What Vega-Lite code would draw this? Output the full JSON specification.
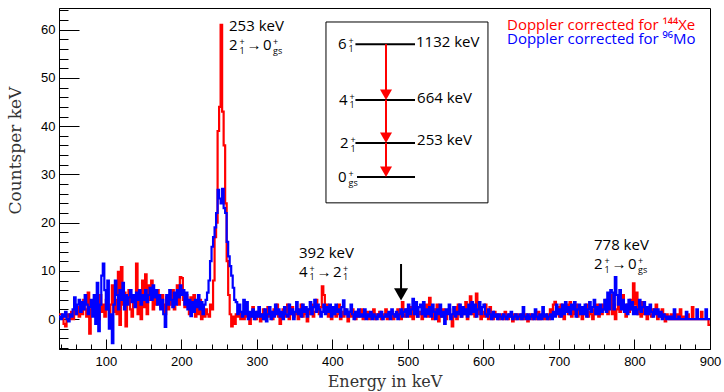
{
  "$schema": "https://vega.github.io/schema/vega-lite/v6.json",
  "autosize": "none",
  "width": 651,
  "height": 341,
  "padding": {"left": 59, "top": 8, "right": 14, "bottom": 43},
  "background": "white",
  "config": {"view": {"stroke": "black", "strokeWidth": 1}},
  "resolve": {"axis": {"x": "independent", "y": "independent"}},
  "datasets": {
    "h": [
      {"e":38,"r":1,"b":0.5},{"e":40,"r":1,"b":0},{"e":42,"r":0.5,"b":1},{"e":44,"r":-1,"b":0.5},{"e":46,"r":-1.5,"b":1.5},
      {"e":48,"r":0.5,"b":0},{"e":50,"r":1,"b":-0.5},{"e":52,"r":0,"b":1},{"e":54,"r":1.5,"b":0.5},{"e":56,"r":0,"b":2},
      {"e":58,"r":2,"b":4.5},{"e":60,"r":1,"b":1},{"e":62,"r":2.5,"b":3},{"e":64,"r":0.5,"b":4},{"e":66,"r":3,"b":1.5},
      {"e":68,"r":1,"b":3.5},{"e":70,"r":4,"b":2},{"e":72,"r":2,"b":5},{"e":74,"r":0.5,"b":3},{"e":76,"r":5.5,"b":1},
      {"e":78,"r":-3,"b":2.5},{"e":80,"r":2,"b":4},{"e":82,"r":3.5,"b":0.5},{"e":84,"r":1,"b":5},{"e":86,"r":4,"b":-1},
      {"e":88,"r":2.5,"b":7.5},{"e":90,"r":0,"b":-2.5},{"e":92,"r":5,"b":3},{"e":94,"r":1.5,"b":9},{"e":96,"r":3,"b":11.5},
      {"e":98,"r":0.5,"b":6},{"e":100,"r":4,"b":2},{"e":102,"r":2,"b":8},{"e":104,"r":0.5,"b":-2},{"e":106,"r":3,"b":1},
      {"e":108,"r":7,"b":-5},{"e":110,"r":1.5,"b":3},{"e":112,"r":4,"b":8},{"e":114,"r":1,"b":5},{"e":116,"r":9.8,"b":2},
      {"e":118,"r":-1.2,"b":6},{"e":120,"r":10.8,"b":4},{"e":122,"r":3,"b":7.5},{"e":124,"r":5.5,"b":2},{"e":126,"r":-1.5,"b":5},
      {"e":128,"r":4,"b":3},{"e":130,"r":6,"b":4.5},{"e":132,"r":2,"b":6},{"e":134,"r":0.5,"b":3.5},{"e":136,"r":5,"b":5},
      {"e":138,"r":3,"b":2.5},{"e":140,"r":11.5,"b":5.5},{"e":142,"r":1,"b":4},{"e":144,"r":6,"b":6},{"e":146,"r":0,"b":3},
      {"e":148,"r":8,"b":5},{"e":150,"r":2.5,"b":4},{"e":152,"r":9.3,"b":6},{"e":154,"r":1,"b":3.5},{"e":156,"r":7,"b":5},
      {"e":158,"r":4,"b":6.5},{"e":160,"r":8,"b":4},{"e":162,"r":2,"b":7},{"e":164,"r":5.5,"b":4.5},{"e":166,"r":3,"b":6},
      {"e":168,"r":6,"b":3},{"e":170,"r":4,"b":5},{"e":172,"r":2.5,"b":2},{"e":174,"r":5,"b":4},{"e":176,"r":3,"b":1},
      {"e":178,"r":1,"b":-1.6},{"e":180,"r":4.5,"b":5},{"e":182,"r":2,"b":3},{"e":184,"r":5,"b":6},{"e":186,"r":3,"b":4},
      {"e":188,"r":6,"b":2.5},{"e":190,"r":2,"b":5.5},{"e":192,"r":4,"b":3},{"e":194,"r":7,"b":6},{"e":196,"r":3,"b":4.5},
      {"e":198,"r":8.7,"b":7},{"e":200,"r":8.5,"b":5},{"e":202,"r":4,"b":6},{"e":204,"r":2.5,"b":3},{"e":206,"r":5,"b":5.5},
      {"e":208,"r":3,"b":2},{"e":210,"r":1,"b":4},{"e":212,"r":4.5,"b":0.6},{"e":214,"r":2,"b":3.5},{"e":216,"r":5,"b":1.5},
      {"e":218,"r":0.5,"b":4},{"e":220,"r":3,"b":2.5},{"e":222,"r":1,"b":5},{"e":224,"r":4,"b":2},{"e":226,"r":0,"b":3.5},
      {"e":228,"r":2,"b":1},{"e":230,"r":0.5,"b":3},{"e":232,"r":2,"b":4},{"e":234,"r":1,"b":5.5},{"e":236,"r":0.5,"b":8},
      {"e":238,"r":3,"b":12},{"e":240,"r":2,"b":15},{"e":242,"r":8,"b":17},{"e":244,"r":17,"b":19},{"e":246,"r":20,"b":22},
      {"e":248,"r":39,"b":26.8},{"e":250,"r":44,"b":25},{"e":252,"r":61,"b":24},{"e":254,"r":43,"b":27},{"e":256,"r":36,"b":23},
      {"e":258,"r":24,"b":22},{"e":260,"r":12,"b":16},{"e":262,"r":5,"b":13},{"e":264,"r":1,"b":11},{"e":266,"r":-1.5,"b":9},
      {"e":268,"r":0.5,"b":6.5},{"e":270,"r":-1,"b":4},{"e":272,"r":1,"b":3.5},{"e":274,"r":0.5,"b":1},{"e":276,"r":1.5,"b":3},
      {"e":278,"r":0,"b":1.5},{"e":280,"r":1,"b":0.5},{"e":282,"r":0,"b":4},{"e":284,"r":2,"b":1},{"e":286,"r":0.5,"b":3.5},
      {"e":288,"r":1,"b":0},{"e":290,"r":-1,"b":1.5},{"e":292,"r":0.5,"b":0.5},{"e":294,"r":2.5,"b":2},{"e":296,"r":1,"b":0},
      {"e":298,"r":0,"b":1.5},{"e":300,"r":1.5,"b":0.5},{"e":302,"r":0.5,"b":2.5},{"e":304,"r":-0.5,"b":0.5},{"e":306,"r":1,"b":1},
      {"e":308,"r":2,"b":0},{"e":310,"r":0,"b":2},{"e":312,"r":1,"b":-0.5},{"e":314,"r":2.5,"b":1},{"e":316,"r":0.5,"b":2.5},
      {"e":318,"r":1.5,"b":0},{"e":320,"r":0,"b":1.5},{"e":322,"r":2,"b":0.5},{"e":324,"r":1,"b":3},{"e":326,"r":3,"b":1},
      {"e":328,"r":0.5,"b":2},{"e":330,"r":-1,"b":0.5},{"e":332,"r":1,"b":1.5},{"e":334,"r":2,"b":0},{"e":336,"r":0.5,"b":2.5},
      {"e":338,"r":1.5,"b":1},{"e":340,"r":3,"b":0.5},{"e":342,"r":0,"b":3},{"e":344,"r":1,"b":1},{"e":346,"r":2.5,"b":2},
      {"e":348,"r":0.5,"b":0},{"e":350,"r":1,"b":1.5},{"e":352,"r":2,"b":3.5},{"e":354,"r":0,"b":1},{"e":356,"r":1.5,"b":2},
      {"e":358,"r":3,"b":0.5},{"e":360,"r":0.5,"b":3},{"e":362,"r":2,"b":1.5},{"e":364,"r":1,"b":2.5},{"e":366,"r":-0.5,"b":0.5},
      {"e":368,"r":2,"b":2},{"e":370,"r":1,"b":3.5},{"e":372,"r":3,"b":1},{"e":374,"r":0.5,"b":2.5},{"e":376,"r":1.5,"b":4},
      {"e":378,"r":4,"b":1.5},{"e":380,"r":2,"b":3},{"e":382,"r":1,"b":2},{"e":384,"r":2.5,"b":0.5},{"e":386,"r":6.8,"b":1.5},
      {"e":388,"r":5,"b":3},{"e":390,"r":2,"b":1},{"e":392,"r":3,"b":2.5},{"e":394,"r":0.5,"b":1.5},{"e":396,"r":1.5,"b":3},
      {"e":398,"r":0,"b":0.5},{"e":400,"r":1,"b":2.5},{"e":402,"r":2,"b":1},{"e":404,"r":0.5,"b":3},{"e":406,"r":1,"b":1.5},
      {"e":408,"r":3,"b":2},{"e":410,"r":0,"b":0.5},{"e":412,"r":1.5,"b":2.5},{"e":414,"r":0.5,"b":3.9},{"e":416,"r":2,"b":1},
      {"e":418,"r":1,"b":2},{"e":420,"r":-0.5,"b":0.5},{"e":422,"r":1.5,"b":1.5},{"e":424,"r":0.5,"b":3},{"e":426,"r":2,"b":1},
      {"e":428,"r":1,"b":0},{"e":430,"r":0,"b":1.5},{"e":432,"r":1.5,"b":0.5},{"e":434,"r":0.5,"b":2},{"e":436,"r":1,"b":0.5},
      {"e":438,"r":2,"b":1},{"e":440,"r":0,"b":0.5},{"e":442,"r":1,"b":2},{"e":444,"r":0.5,"b":0},{"e":446,"r":1.5,"b":1},
      {"e":448,"r":0,"b":0.5},{"e":450,"r":1,"b":1.5},{"e":452,"r":0.5,"b":0},{"e":454,"r":2,"b":1},{"e":456,"r":0,"b":0.5},
      {"e":458,"r":1,"b":0},{"e":460,"r":0.5,"b":1},{"e":462,"r":1.5,"b":0.5},{"e":464,"r":0,"b":1.5},{"e":466,"r":1,"b":0},
      {"e":468,"r":0.5,"b":0.5},{"e":470,"r":2,"b":1},{"e":472,"r":0,"b":0.5},{"e":474,"r":1,"b":1.5},{"e":476,"r":0.5,"b":0},
      {"e":478,"r":1.5,"b":2},{"e":480,"r":0,"b":1},{"e":482,"r":1,"b":0.5},{"e":484,"r":0.5,"b":1.5},{"e":486,"r":2,"b":0},
      {"e":488,"r":1,"b":1},{"e":490,"r":0,"b":2},{"e":492,"r":3.5,"b":0.5},{"e":494,"r":1,"b":1.5},{"e":496,"r":0.5,"b":2},
      {"e":498,"r":2,"b":0.5},{"e":500,"r":1,"b":3},{"e":502,"r":0.5,"b":1},{"e":504,"r":2.5,"b":2},{"e":506,"r":0,"b":4.2},
      {"e":508,"r":1,"b":1},{"e":510,"r":2,"b":3.5},{"e":512,"r":0.5,"b":0.5},{"e":514,"r":1.5,"b":2.5},{"e":516,"r":1,"b":3},
      {"e":518,"r":0,"b":1},{"e":520,"r":2.5,"b":3.5},{"e":522,"r":1,"b":0.5},{"e":524,"r":3,"b":2},{"e":526,"r":0.5,"b":1},
      {"e":528,"r":4.4,"b":2.5},{"e":530,"r":1,"b":0.5},{"e":532,"r":0,"b":3},{"e":534,"r":2,"b":1.5},{"e":536,"r":1,"b":0},
      {"e":538,"r":3,"b":2},{"e":540,"r":-0.5,"b":1},{"e":542,"r":1.5,"b":3},{"e":544,"r":0.5,"b":0.5},{"e":546,"r":2,"b":1.5},
      {"e":548,"r":1,"b":-1},{"e":550,"r":0,"b":2},{"e":552,"r":1.5,"b":1},{"e":554,"r":2,"b":3},{"e":556,"r":0.5,"b":0},
      {"e":558,"r":-1.5,"b":1},{"e":560,"r":1,"b":2.5},{"e":562,"r":2.5,"b":0.5},{"e":564,"r":0,"b":1.5},{"e":566,"r":3,"b":1},
      {"e":568,"r":1,"b":3},{"e":570,"r":0.5,"b":0.5},{"e":572,"r":2,"b":2.5},{"e":574,"r":1,"b":1},{"e":576,"r":3.5,"b":2},
      {"e":578,"r":0,"b":0.5},{"e":580,"r":1.5,"b":3},{"e":582,"r":4.7,"b":1},{"e":584,"r":1,"b":3.5},{"e":586,"r":2,"b":1.5},
      {"e":588,"r":0.5,"b":3},{"e":590,"r":5.3,"b":0.5},{"e":592,"r":1,"b":2},{"e":594,"r":2.5,"b":3.5},{"e":596,"r":0,"b":1},
      {"e":598,"r":1.5,"b":2.5},{"e":600,"r":0.5,"b":3},{"e":602,"r":3,"b":1},{"e":604,"r":1,"b":0.5},{"e":606,"r":0,"b":2},
      {"e":608,"r":2.5,"b":1},{"e":610,"r":1,"b":0},{"e":612,"r":0,"b":1.5},{"e":614,"r":1.5,"b":0.5},{"e":616,"r":0.5,"b":1},
      {"e":618,"r":1,"b":0},{"e":620,"r":0,"b":1},{"e":622,"r":0.5,"b":0.5},{"e":624,"r":1,"b":0},{"e":626,"r":0,"b":1},
      {"e":628,"r":1.5,"b":0.5},{"e":630,"r":0.5,"b":0},{"e":632,"r":0,"b":1},{"e":634,"r":1,"b":0.5},{"e":636,"r":0.5,"b":1.5},
      {"e":638,"r":-0.5,"b":0},{"e":640,"r":1,"b":0.5},{"e":642,"r":0,"b":1},{"e":644,"r":1,"b":0},{"e":646,"r":0.5,"b":0.5},
      {"e":648,"r":0,"b":1},{"e":650,"r":1,"b":0},{"e":652,"r":0,"b":2.5},{"e":654,"r":0.5,"b":0.5},{"e":656,"r":1,"b":0},
      {"e":658,"r":-0.5,"b":1},{"e":660,"r":0.5,"b":0},{"e":662,"r":1,"b":0.5},{"e":664,"r":0,"b":1},{"e":666,"r":0.5,"b":0},
      {"e":668,"r":1,"b":2},{"e":670,"r":0,"b":0.5},{"e":672,"r":1.5,"b":0},{"e":674,"r":0,"b":1},{"e":676,"r":0.5,"b":0},
      {"e":678,"r":1,"b":2.5},{"e":680,"r":0,"b":0.5},{"e":682,"r":0.5,"b":1},{"e":684,"r":1,"b":0},{"e":686,"r":0,"b":0.5},
      {"e":688,"r":2,"b":1},{"e":690,"r":1,"b":0},{"e":692,"r":3,"b":1.5},{"e":694,"r":3.6,"b":0.5},{"e":696,"r":1,"b":3},
      {"e":698,"r":2.5,"b":1},{"e":700,"r":0.5,"b":2},{"e":702,"r":3,"b":0.5},{"e":704,"r":1.5,"b":3},{"e":706,"r":0,"b":1},
      {"e":708,"r":2,"b":3.5},{"e":710,"r":3,"b":1.5},{"e":712,"r":1,"b":2.5},{"e":714,"r":3.5,"b":1},{"e":716,"r":0.5,"b":3},
      {"e":718,"r":2,"b":2},{"e":720,"r":1,"b":3.5},{"e":722,"r":3,"b":0.5},{"e":724,"r":0.5,"b":2},{"e":726,"r":2,"b":3},
      {"e":728,"r":1,"b":1},{"e":730,"r":0,"b":2.5},{"e":732,"r":2.5,"b":1},{"e":734,"r":1,"b":3},{"e":736,"r":3,"b":0.5},
      {"e":738,"r":0.5,"b":2},{"e":740,"r":1.5,"b":3.5},{"e":742,"r":1,"b":1.5},{"e":744,"r":0,"b":2.5},{"e":746,"r":2,"b":4},
      {"e":748,"r":1,"b":1},{"e":750,"r":3,"b":2.5},{"e":752,"r":0.5,"b":1},{"e":754,"r":2,"b":3},{"e":756,"r":1,"b":1.5},
      {"e":758,"r":3,"b":2},{"e":760,"r":2,"b":4},{"e":762,"r":4,"b":1.5},{"e":764,"r":1,"b":5.5},{"e":766,"r":2.5,"b":2},
      {"e":768,"r":5,"b":6},{"e":770,"r":1,"b":5.5},{"e":772,"r":3,"b":2},{"e":774,"r":0,"b":8.7},{"e":776,"r":2,"b":5},
      {"e":778,"r":4.5,"b":3},{"e":780,"r":1.5,"b":6},{"e":782,"r":3,"b":2},{"e":784,"r":5,"b":4},{"e":786,"r":2,"b":1.5},
      {"e":788,"r":0.5,"b":3},{"e":790,"r":3,"b":1},{"e":792,"r":1.5,"b":4},{"e":794,"r":4,"b":2},{"e":796,"r":2,"b":3.5},
      {"e":798,"r":7.4,"b":1},{"e":800,"r":3,"b":2.5},{"e":802,"r":5.5,"b":1},{"e":804,"r":1,"b":2},{"e":806,"r":2,"b":4},
      {"e":808,"r":0.5,"b":1.5},{"e":810,"r":3.5,"b":2.5},{"e":812,"r":1,"b":3.5},{"e":814,"r":2,"b":1},{"e":816,"r":0,"b":2.5},
      {"e":818,"r":2.5,"b":1},{"e":820,"r":1,"b":3},{"e":822,"r":0.5,"b":1.5},{"e":824,"r":2,"b":0.5},{"e":826,"r":1,"b":2},
      {"e":828,"r":3,"b":1},{"e":830,"r":0,"b":2},{"e":832,"r":1.5,"b":0.5},{"e":834,"r":0.5,"b":1.5},{"e":836,"r":2,"b":0},
      {"e":838,"r":1,"b":1},{"e":840,"r":-0.5,"b":0.5},{"e":842,"r":1,"b":0},{"e":844,"r":0.5,"b":0.5},{"e":846,"r":0,"b":0},
      {"e":848,"r":1,"b":0.5},{"e":850,"r":0,"b":0},{"e":852,"r":0.5,"b":2},{"e":854,"r":0,"b":0},{"e":856,"r":1,"b":0},
      {"e":858,"r":0,"b":0.5},{"e":860,"r":2,"b":0},{"e":862,"r":0,"b":0},{"e":864,"r":0.5,"b":0},{"e":866,"r":0,"b":0},
      {"e":868,"r":0,"b":1.5},{"e":870,"r":1,"b":0},{"e":872,"r":0,"b":0},{"e":874,"r":0,"b":0},{"e":876,"r":2.5,"b":0},
      {"e":878,"r":0,"b":0},{"e":880,"r":0,"b":0},{"e":882,"r":0,"b":2},{"e":884,"r":0,"b":0},{"e":886,"r":0,"b":0},
      {"e":888,"r":1.5,"b":0},{"e":890,"r":0,"b":0},{"e":892,"r":0,"b":0},{"e":894,"r":0,"b":2},{"e":896,"r":0,"b":0},
      {"e":898,"r":-1.2,"b":0},{"e":900,"r":-1.2,"b":0}
    ],
    "bigtext": [
      {"e":263.1,"v":59.73,"t":"253 keV"},
      {"e":263.1,"v":55.79,"t":"2"},
      {"e":286.3,"v":55.79,"t":"→"},
      {"e":308.1,"v":55.79,"t":"0"},
      {"e":355.8,"v":12.67,"t":"392 keV"},
      {"e":355.8,"v":8.73,"t":"4"},
      {"e":379.0,"v":8.73,"t":"→"},
      {"e":400.8,"v":8.73,"t":"2"},
      {"e":746.4,"v":14.32,"t":"778 keV"},
      {"e":746.4,"v":10.38,"t":"2"},
      {"e":769.6,"v":10.38,"t":"→"},
      {"e":791.4,"v":10.38,"t":"0"},
      {"e":407.5,"v":56.0,"t":"6"},
      {"e":408.8,"v":44.39,"t":"4"},
      {"e":410.1,"v":35.47,"t":"2"},
      {"e":407.5,"v":28.42,"t":"0"},
      {"e":510.7,"v":56.48,"t":"1132 keV"},
      {"e":512.1,"v":44.70,"t":"664 keV"},
      {"e":512.1,"v":36.1,"t":"253 keV"}
    ],
    "smalltext": [
      {"e":277.0,"v":57.45,"t":["+","1"]},{"e":321.4,"v":57.45,"t":["+","gs"]},
      {"e":369.7,"v":10.39,"t":["+","1"]},{"e":414.1,"v":10.39,"t":["+","1"]},
      {"e":760.4,"v":12.04,"t":["+","1"]},{"e":804.7,"v":12.04,"t":["+","gs"]},
      {"e":421.4,"v":57.66,"t":["+","1"]},
      {"e":422.7,"v":46.05,"t":["+","1"]},
      {"e":424.0,"v":37.13,"t":["+","1"]},
      {"e":421.4,"v":30.08,"t":["+","gs"]}
    ]
  },
  "layer": [
    {
      "data": {"name": "h"},
      "mark": {"type": "line", "interpolate": "step-after", "color": "#ff0000", "strokeWidth": 2.2, "clip": true},
      "encoding": {
        "x": {
          "field": "e", "type": "quantitative",
          "scale": {"domain": [38, 900], "nice": false, "zero": false},
          "axis": {
            "orient": "bottom",
            "values": [100,200,300,400,500,600,700,800,900],
            "tickSize": -10,
            "labelPadding": 16,
            "labelFont": "Liberation Sans", "labelFontSize": 13, "labelColor": "black",
            "labelFlush": false, "labelOverlap": false,
            "tickColor": "black", "domainColor": "black", "grid": false,
            "title": "Energy in keV",
            "titleFont": "DejaVu Serif", "titleFontSize": 16, "titleFontWeight": "normal", "titleColor": "#333333",
            "titleX": 325.5, "titleY": 37, "titleAlign": "center", "titleBaseline": "alphabetic"
          }
        },
        "y": {
          "field": "r", "type": "quantitative",
          "scale": {"domain": [-6.2, 64.5], "nice": false, "zero": false},
          "axis": {
            "orient": "left",
            "values": [0,10,20,30,40,50,60],
            "tickSize": -20,
            "labelPadding": 24,
            "labelFont": "Liberation Sans", "labelFontSize": 13, "labelColor": "black",
            "labelFlush": false, "labelOverlap": false,
            "tickColor": "black", "domainColor": "black", "grid": false,
            "title": "Countsper keV",
            "titleFont": "DejaVu Serif", "titleFontSize": 17, "titleFontWeight": "normal", "titleColor": "#333333",
            "titleX": -38.5, "titleY": 142, "titleAngle": 270, "titleAlign": "center", "titleBaseline": "alphabetic"
          }
        }
      }
    },
    {
      "data": {"name": "h"},
      "mark": {"type": "line", "interpolate": "step-after", "color": "#0000ff", "strokeWidth": 2.2, "clip": true},
      "encoding": {
        "x": {
          "field": "e", "type": "quantitative",
          "axis": {
            "orient": "bottom",
            "values": [40,60,80,120,140,160,180,220,240,260,280,320,340,360,380,420,440,460,480,520,540,560,580,620,640,660,680,720,740,760,780,820,840,860,880],
            "tickSize": -5, "labels": false, "domain": false, "grid": false, "title": null, "tickColor": "black"
          }
        },
        "y": {
          "field": "b", "type": "quantitative",
          "axis": {
            "orient": "left",
            "values": [-6,-4,-2,2,4,6,8,12,14,16,18,22,24,26,28,32,34,36,38,42,44,46,48,52,54,56,58,62,64],
            "tickSize": -9, "labels": false, "domain": false, "grid": false, "title": null, "tickColor": "black"
          }
        }
      }
    },
    {
      "data": {"values": [{"x1": 391.5, "x2": 606, "y1": 24.1, "y2": 61.6}]},
      "mark": {"type": "rect", "fill": "white", "stroke": "black", "strokeWidth": 1},
      "encoding": {
        "x": {"field": "x1", "type": "quantitative", "axis": null},
        "x2": {"field": "x2"},
        "y": {"field": "y1", "type": "quantitative", "axis": null},
        "y2": {"field": "y2"}
      }
    },
    {
      "data": {"values": [
        {"x1": 430.5, "x2": 509.4, "y": 57.0},
        {"x1": 430.5, "x2": 509.4, "y": 45.42},
        {"x1": 430.5, "x2": 509.4, "y": 36.51},
        {"x1": 432.6, "x2": 509.4, "y": 29.46}
      ]},
      "mark": {"type": "rule", "color": "black", "strokeWidth": 2},
      "encoding": {
        "x": {"field": "x1", "type": "quantitative", "axis": null},
        "x2": {"field": "x2"},
        "y": {"field": "y", "type": "quantitative", "axis": null}
      }
    },
    {
      "data": {"values": [
        {"x": 471, "y1": 57.0, "y2": 46.5},
        {"x": 471, "y1": 45.42, "y2": 37.6},
        {"x": 471, "y1": 36.51, "y2": 30.6}
      ]},
      "mark": {"type": "rule", "color": "#ff0000", "strokeWidth": 2},
      "encoding": {
        "x": {"field": "x", "type": "quantitative", "axis": null},
        "y": {"field": "y1", "type": "quantitative", "axis": null},
        "y2": {"field": "y2"}
      }
    },
    {
      "data": {"values": [{"x": 471, "y": 46.5}, {"x": 471, "y": 37.59}, {"x": 471, "y": 30.54}]},
      "mark": {"type": "point", "shape": "triangle-down", "size": 144, "filled": true, "color": "#ff0000", "opacity": 1},
      "encoding": {
        "x": {"field": "x", "type": "quantitative", "axis": null},
        "y": {"field": "y", "type": "quantitative", "axis": null}
      }
    },
    {
      "data": {"values": [{"x": 490.9, "y1": 11.42, "y2": 6.0}]},
      "mark": {"type": "rule", "color": "black", "strokeWidth": 2},
      "encoding": {
        "x": {"field": "x", "type": "quantitative", "axis": null},
        "y": {"field": "y1", "type": "quantitative", "axis": null},
        "y2": {"field": "y2"}
      }
    },
    {
      "data": {"values": [{"x": 490.9, "y": 5.12}]},
      "mark": {"type": "point", "shape": "triangle-down", "size": 196, "filled": true, "color": "black", "opacity": 1},
      "encoding": {
        "x": {"field": "x", "type": "quantitative", "axis": null},
        "y": {"field": "y", "type": "quantitative", "axis": null}
      }
    },
    {
      "data": {"name": "bigtext"},
      "mark": {"type": "text", "font": "Open Sans", "fontSize": 15, "align": "left", "baseline": "alphabetic", "color": "black"},
      "encoding": {
        "x": {"field": "e", "type": "quantitative", "axis": null},
        "y": {"field": "v", "type": "quantitative", "axis": null},
        "text": {"field": "t"}
      }
    },
    {
      "data": {"name": "smalltext"},
      "mark": {"type": "text", "font": "Open Sans", "fontSize": 9, "lineHeight": 8.5, "align": "left", "baseline": "middle", "color": "black"},
      "encoding": {
        "x": {"field": "e", "type": "quantitative", "axis": null},
        "y": {"field": "v", "type": "quantitative", "axis": null},
        "text": {"field": "t"}
      }
    },
    {
      "data": {"values": [{"e": 631.2, "v": 59.94, "t": "Doppler corrected for ¹⁴⁴Xe"}]},
      "mark": {"type": "text", "font": "Open Sans", "fontSize": 15, "align": "left", "baseline": "alphabetic", "color": "#ff0000"},
      "encoding": {
        "x": {"field": "e", "type": "quantitative", "axis": null},
        "y": {"field": "v", "type": "quantitative", "axis": null},
        "text": {"field": "t"}
      }
    },
    {
      "data": {"values": [{"e": 631.2, "v": 56.97, "t": "Doppler corrected for ⁹⁶Mo"}]},
      "mark": {"type": "text", "font": "Open Sans", "fontSize": 15, "align": "left", "baseline": "alphabetic", "color": "#0000ff"},
      "encoding": {
        "x": {"field": "e", "type": "quantitative", "axis": null},
        "y": {"field": "v", "type": "quantitative", "axis": null},
        "text": {"field": "t"}
      }
    }
  ]
}
